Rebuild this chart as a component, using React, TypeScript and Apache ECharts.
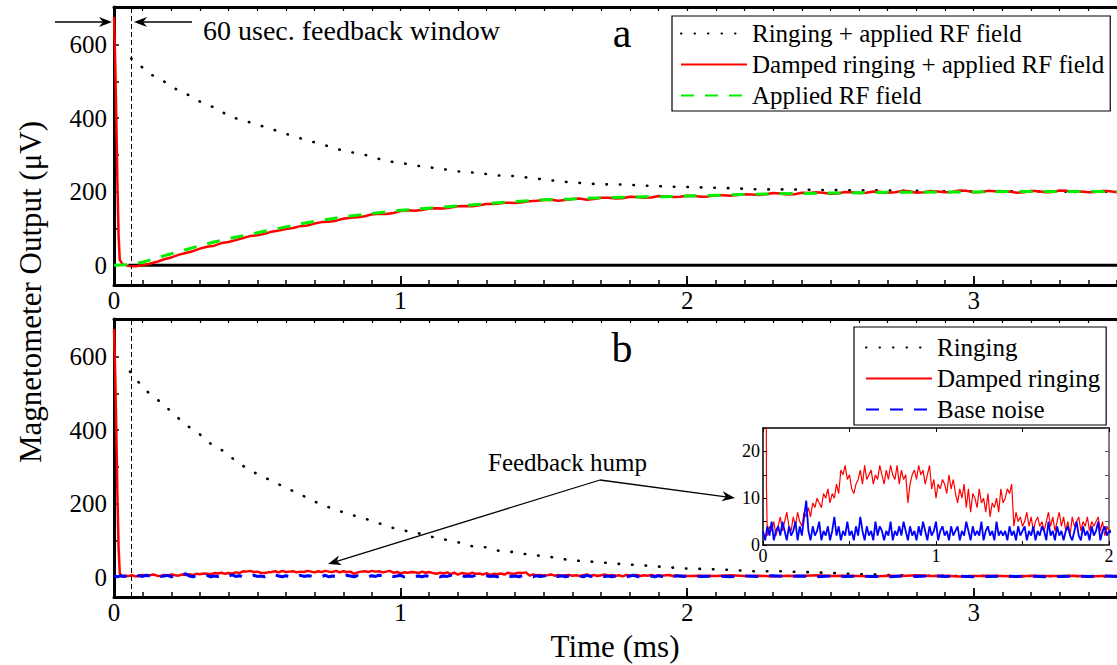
import React, { useEffect, useRef } from "react";
import * as echarts from "echarts";

const FONT = "'Liberation Serif', 'DejaVu Serif', serif";

// ---------- axes ----------
const X_MIN = 0;
const X_MAX = 3.5;
const Y_MIN = -54;
const Y_MAX = 702;
const xLabelValues = [0, 1, 2, 3];
const yLabelValues = [0, 200, 400, 600];
const yTickValues = [0, 100, 200, 300, 400, 500, 600, 700];
const insetXLabelValues = [0, 1, 2];
const insetYLabelValues = [0, 10, 20];
const FEEDBACK_WINDOW_MS = 0.06;

// ---------- panel a ----------
const ringRfT = [0.06, 0.1, 0.13, 0.18, 0.22, 0.27, 0.31, 0.36, 0.4, 0.45, 0.5, 0.55, 0.6, 0.65, 0.7, 0.75, 0.8, 0.87, 0.92, 0.96, 1.01, 1.05, 1.1, 1.15, 1.2, 1.28, 1.33, 1.4, 1.5, 1.55, 1.6, 1.69, 1.79, 1.83, 1.92, 2.02, 2.16, 2.25, 2.37, 2.5, 2.7, 2.9, 3.1, 3.3, 3.5];
const ringRfV = [562, 537, 518, 497, 477, 459, 440, 426, 405, 394, 382, 370, 357, 345, 334, 323, 311, 301, 290, 282, 277, 271, 266, 261, 255, 250, 244, 242, 233, 228, 225, 220, 219, 217, 214, 212, 209, 206, 206, 204, 203, 201, 201, 200, 200];

const dampRfSpikeT = [0, 0.004, 0.008, 0.012, 0.016, 0.02, 0.03];
const dampRfSpikeV = [675, 560, 400, 220, 80, 15, 2];
const dampRfStep = 0.025;
const dampRfV = [
  -2, -3, 0, 4, 9, 16, 21, 28, 33, 38, 45, 50, 53, 60, 63, 68, 74, 79, 81, 85,
  91, 94, 98, 101, 106, 108, 113, 117, 118, 121, 126, 129, 130, 133, 138, 140, 139, 142, 147, 149,
  148, 150, 154, 155, 154, 157, 160, 161, 160, 163, 166, 166, 168, 170, 169, 171, 174, 175, 177, 178,
  175, 177, 180, 181, 178, 180, 183, 183, 181, 182, 186, 185, 183, 184, 188, 187, 185, 186, 189, 188,
  186, 187, 190, 190, 189, 191, 193, 192, 191, 193, 196, 195, 192, 193, 197, 196, 198, 197, 194, 195,
  199, 198, 196, 197, 200, 199, 197, 198, 202, 201, 197, 198, 201, 200, 198, 199, 203, 202, 198, 199,
  202, 201, 199, 200, 197, 198, 202, 201, 198, 199, 203, 202, 199, 200, 198, 199, 202, 201, 198, 199,
];

const rfT = [0, 0.05, 0.1, 0.15, 0.2, 0.25, 0.3, 0.35, 0.4, 0.45, 0.5, 0.55, 0.6, 0.65, 0.7, 0.75, 0.8, 0.85, 0.9, 0.95, 1.0, 1.1, 1.2, 1.3, 1.4, 1.5, 1.6, 1.7, 1.8, 1.9, 2.0, 2.1, 2.2, 2.3, 2.4, 2.5, 2.6, 2.7, 2.8, 2.9, 3.0, 3.1, 3.2, 3.3, 3.4, 3.5];
const rfV = [0, 1, 8, 20, 31, 42, 53, 63, 72, 80, 88, 96, 104, 112, 119, 125, 131, 136, 140, 145, 149, 155, 161, 167, 173, 178, 180, 183, 185, 186, 188, 190, 192, 194, 195, 196, 197, 198, 198, 199, 199, 200, 200, 200, 200, 200];

const zeroLineT = [0.05, 3.5];
const zeroLineV = [0, 0];

// ---------- panel b ----------
const ringT = [0.056, 0.087, 0.126, 0.17, 0.206, 0.25, 0.3, 0.34, 0.39, 0.43, 0.5, 0.55, 0.6, 0.65, 0.713, 0.76, 0.81, 0.857, 0.906, 0.954, 1.0, 1.05, 1.1, 1.15, 1.2, 1.25, 1.3, 1.345, 1.4, 1.44, 1.5, 1.55, 1.59, 1.69, 1.73, 1.78, 1.83, 1.88, 1.93, 1.98, 2.07, 2.17, 2.22, 2.32, 2.41, 2.51, 2.6, 2.7, 2.8, 3.0, 3.5];
const ringV = [559, 529, 497, 472, 445, 415, 388, 361, 339, 312, 280, 262, 243, 225, 201, 187, 174, 163, 152, 138, 128, 122, 111, 103, 95, 84, 81, 71, 68, 62, 57, 52, 46, 41, 38, 35, 33, 30, 27, 24, 22, 19, 16, 16, 14, 11, 8, 6, 4, 3, 2];

const dampSpikeT = [0, 0.004, 0.008, 0.012, 0.016, 0.02];
const dampSpikeV = [675, 560, 400, 220, 80, 12];
const sampleStep = 0.0125;
const dampSampleStart = 0.025;
const dampSampleV = [
  2, 4, 3, 5, 2, 4, 6, 3,
  5, 7, 4, 3, 6, 4, 7, 5,
  4, 7, 6, 8, 6, 9, 8, 10,
  9, 8, 11, 10, 12, 9, 11, 10,
  13, 11, 16, 15, 17, 14, 15, 12,
  11, 13, 14, 16, 13, 17, 14, 15,
  16, 13, 15, 14, 17, 15, 13, 16,
  14, 17, 15, 14, 17, 13, 16, 14,
  15, 9, 13, 15, 16, 14, 17, 15,
  16, 13, 15, 17, 12, 14, 10, 13,
  12, 14, 13, 11, 15, 12, 14, 11,
  9, 12, 10, 13, 8, 12, 7, 11,
  10, 8, 12, 9, 10, 7, 11, 6,
  9, 8, 10, 7, 12, 9, 10, 12,
  11, 13, 4, 7, 5, 6, 4, 5,
  7, 4, 6, 3, 5, 6, 4, 5,
  3, 5, 7, 4, 6, 3, 5, 7,
  4, 6, 3, 5, 2, 6, 4, 5,
  6, 3, 5, 4, 6, 3, 5, 4,
  5, 6, 3, 5, 2, 4, 3,
];
const baseSampleStart = 0;
const baseSampleV = [
  3, 1, 4, 2, 5, 1, 3, 4,
  2, 5, 3, 1, 4, 2, 3, 5,
  1, 4, 2, 6, 9.5, 3, 1, 4,
  2, 3, 5, 1, 3, 2, 4, 1,
  3, 6, 2, 4, 1, 3, 2, 5,
  2, 3, 1, 4, 2, 6, 3, 1,
  4, 2, 3, 1, 5, 2, 4, 3,
  1, 3, 2, 5, 1, 3, 2, 4,
  2, 5, 3, 1, 4, 2, 3, 1,
  4, 2, 5, 3, 1, 4, 2, 3,
  5, 1, 3, 4, 2, 3, 1, 4,
  2, 3, 4, 1, 3, 2, 5, 3,
  1, 4, 2, 3, 2, 5, 1, 3,
  4, 2, 3, 1, 5, 2, 3, 2,
  3, 1, 4, 2, 3, 1, 4, 2,
  3, 4, 1, 3, 2, 4, 1, 3,
  2, 4, 3, 1, 5, 2, 3, 1,
  4, 2, 3, 1, 3, 4, 2, 1,
  3, 5, 2, 1, 4, 2, 3, 1,
  4, 2, 3, 5, 1, 3, 4, 2,
  3,
];
const tailStart = 2.05;
const tailStep = 0.05;
const dampTailV = [4, 3, 5, 3, 4, 2, 4, 3, 5, 3, 4, 3, 2, 4, 3, 5, 3, 4, 2, 3, 4, 3, 2, 4, 3, 3, 4, 2, 3, 3];
const baseTailV = [2, 3, 1, 3, 2, 4, 2, 3, 1, 3, 2, 3, 2, 1, 3, 2, 4, 2, 3, 1, 2, 3, 2, 3, 1, 2, 3, 2, 3, 2];

// ---------- helpers ----------
const zip = (t: number[], v: number[]) => t.map((x, i) => [x, v[i]]);
const grid = (start: number, step: number, n: number) =>
  Array.from({ length: n }, (_, i) => +(start + i * step).toFixed(5));

const dampRfData = [
  ...zip(dampRfSpikeT, dampRfSpikeV),
  ...zip(grid(0.05, dampRfStep, dampRfV.length), dampRfV),
];
const dampData = [
  ...zip(dampSpikeT, dampSpikeV),
  ...zip(grid(dampSampleStart, sampleStep, dampSampleV.length), dampSampleV),
  ...zip(grid(tailStart, tailStep, dampTailV.length), dampTailV),
];
const baseData = [
  ...zip(grid(baseSampleStart, sampleStep, baseSampleV.length), baseSampleV),
  ...zip(grid(tailStart, tailStep, baseTailV.length), baseTailV),
];

const BLACK = "#000";
const RED = "#ff0000";
const GREEN = "#00ee00";
const BLUE = "#0000ff";

function arrow(x1: number, y1: number, x2: number, y2: number, head = 13, half = 5) {
  const dx = x2 - x1;
  const dy = y2 - y1;
  const len = Math.hypot(dx, dy);
  const ux = dx / len;
  const uy = dy / len;
  const px = -uy;
  const py = ux;
  const bx = x2 - ux * head;
  const by = y2 - uy * head;
  const nx = x2 - ux * head * 0.7;
  const ny = y2 - uy * head * 0.7;
  return [
    { type: "line", z: 100, shape: { x1, y1, x2: nx, y2: ny }, style: { stroke: BLACK, lineWidth: 1.3 } },
    {
      type: "polygon",
      z: 100,
      shape: { points: [[x2, y2], [bx + px * half, by + py * half], [nx, ny], [bx - px * half, by - py * half]] },
      style: { fill: BLACK },
    },
  ];
}

function mainXAxes(g: number) {
  return [
    {
      type: "value", gridIndex: g, position: "bottom", min: X_MIN, max: X_MAX, interval: 0.1,
      axisLine: { show: true, onZero: false, lineStyle: { color: BLACK, width: 3 } },
      axisTick: { show: true, inside: true, length: 5, lineStyle: { color: BLACK, width: 1.5 } },
      axisLabel: { show: true, customValues: xLabelValues, margin: 3, fontSize: 25, color: BLACK, fontFamily: FONT },
      splitLine: { show: false },
    },
    {
      type: "value", gridIndex: g, position: "bottom", min: X_MIN, max: X_MAX,
      axisLine: { show: false, onZero: false },
      axisTick: { show: true, inside: true, length: 9, customValues: xLabelValues, lineStyle: { color: BLACK, width: 1.8 } },
      axisLabel: { show: false },
      splitLine: { show: false },
    },
    {
      type: "value", gridIndex: g, position: "top", min: X_MIN, max: X_MAX, interval: 0.1,
      axisLine: { show: true, onZero: false, lineStyle: { color: BLACK, width: 3 } },
      axisTick: { show: true, inside: true, length: 4, lineStyle: { color: BLACK, width: 1.2 } },
      axisLabel: { show: false },
      splitLine: { show: false },
    },
  ];
}

function mainYAxis(g: number) {
  return {
    type: "value", gridIndex: g, position: "left", min: Y_MIN, max: Y_MAX,
    axisLine: { show: true, onZero: false, lineStyle: { color: BLACK, width: 3 } },
    axisTick: { show: true, inside: true, length: 5, customValues: yTickValues, lineStyle: { color: BLACK, width: 1.5 } },
    axisLabel: { show: true, customValues: yLabelValues, margin: 7, fontSize: 25, color: BLACK, fontFamily: FONT },
    splitLine: { show: false },
  };
}

const feedbackMark = {
  silent: true,
  symbol: "none",
  label: { show: false },
  lineStyle: { type: [5, 3], width: 1, color: BLACK },
  data: [{ xAxis: FEEDBACK_WINDOW_MS }],
};

const dottedStyle = { color: BLACK, width: 2.6, type: [0.5, 13], cap: "round" };
const dashStyle = (color: string) => ({ color, width: 3, type: [13, 11] });

const legendCommon = {
  orient: "vertical",
  itemWidth: 66,
  itemHeight: 14,
  itemGap: 6,
  borderColor: BLACK,
  borderWidth: 1.2,
  borderRadius: 0,
  backgroundColor: "#fff",
  selectedMode: false,
  itemStyle: { opacity: 0 },
  textStyle: { fontSize: 25, lineHeight: 25, fontFamily: FONT, color: BLACK },
};

export default function App() {
  const ref = useRef<HTMLDivElement>(null);
  useEffect(() => {
    if (!ref.current) return;
    const chart = echarts.init(ref.current, undefined, { renderer: "svg" });
    const option: any = {
      animation: false,
      backgroundColor: "#fff",
      textStyle: { fontFamily: FONT },
      grid: [
        { left: 114, top: 7, width: 1003, height: 278 },
        { left: 114, top: 319, width: 1003, height: 278 },
        { left: 763, top: 428, width: 346, height: 117, show: true, backgroundColor: "#fff", borderWidth: 0, z: 5 },
      ],
      xAxis: [
        ...mainXAxes(0),
        ...mainXAxes(1),
        {
          type: "value", gridIndex: 2, position: "bottom", min: 0, max: 2, interval: 0.5, z: 6,
          axisLine: { show: true, onZero: false, lineStyle: { color: BLACK, width: 1.5 } },
          axisTick: { show: true, inside: true, length: 4, lineStyle: { color: BLACK, width: 1 } },
          axisLabel: { show: true, customValues: insetXLabelValues, margin: 2, fontSize: 18, color: BLACK, fontFamily: FONT },
          splitLine: { show: false },
        },
        {
          type: "value", gridIndex: 2, position: "top", min: 0, max: 2, interval: 0.5, z: 6,
          axisLine: { show: true, onZero: false, lineStyle: { color: BLACK, width: 1.5 } },
          axisTick: { show: true, inside: true, length: 4, lineStyle: { color: BLACK, width: 1 } },
          axisLabel: { show: false },
          splitLine: { show: false },
        },
      ],
      yAxis: [
        mainYAxis(0),
        mainYAxis(1),
        {
          type: "value", gridIndex: 2, position: "left", min: 0, max: 25, interval: 5, z: 6,
          axisLine: { show: true, onZero: false, lineStyle: { color: BLACK, width: 1.5 } },
          axisTick: { show: true, inside: true, length: 4, lineStyle: { color: BLACK, width: 1 } },
          axisLabel: { show: true, customValues: insetYLabelValues, margin: 3, fontSize: 18, color: BLACK, fontFamily: FONT },
          splitLine: { show: false },
        },
        {
          type: "value", gridIndex: 2, position: "right", min: 0, max: 25, interval: 5, z: 6,
          axisLine: { show: true, onZero: false, lineStyle: { color: "#555", width: 1.5 } },
          axisTick: { show: true, inside: true, length: 4, lineStyle: { color: "#555", width: 1 } },
          axisLabel: { show: false },
          splitLine: { show: false },
        },
      ],
      legend: [
        {
          ...legendCommon,
          left: 672, top: 16, padding: [5, 6, 3, 8],
          data: ["Ringing + applied RF field", "Damped ringing + applied RF field", "Applied RF field"],
        },
        {
          ...legendCommon,
          left: 854, top: 327, padding: [8, 6, 3, 11],
          data: ["Ringing", "Damped ringing", "Base noise"],
        },
      ],
      series: [
        // panel a
        {
          name: "Ringing + applied RF field", type: "line", xAxisIndex: 0, yAxisIndex: 0,
          data: zip(ringRfT, ringRfV), symbol: "none", lineStyle: dottedStyle, itemStyle: { color: BLACK },
          markLine: feedbackMark,
        },
        {
          type: "line", xAxisIndex: 0, yAxisIndex: 0, data: zip(zeroLineT, zeroLineV),
          symbol: "none", lineStyle: { color: BLACK, width: 3 }, silent: true,
        },
        {
          name: "Damped ringing + applied RF field", type: "line", xAxisIndex: 0, yAxisIndex: 0,
          data: dampRfData, symbol: "none", lineStyle: { color: RED, width: 2.5 }, itemStyle: { color: RED },
        },
        {
          name: "Applied RF field", type: "line", xAxisIndex: 0, yAxisIndex: 0,
          data: zip(rfT, rfV), symbol: "none", lineStyle: dashStyle(GREEN), itemStyle: { color: GREEN },
        },
        // panel b
        {
          name: "Ringing", type: "line", xAxisIndex: 3, yAxisIndex: 1,
          data: zip(ringT, ringV), symbol: "none", lineStyle: dottedStyle, itemStyle: { color: BLACK },
          markLine: feedbackMark,
        },
        {
          name: "Damped ringing", type: "line", xAxisIndex: 3, yAxisIndex: 1,
          data: dampData, symbol: "none", lineStyle: { color: RED, width: 2.5 }, itemStyle: { color: RED },
        },
        {
          name: "Base noise", type: "line", xAxisIndex: 3, yAxisIndex: 1,
          data: baseData, symbol: "none", lineStyle: dashStyle(BLUE), itemStyle: { color: BLUE },
        },
        // inset
        {
          name: "Damped ringing (inset)", type: "line", xAxisIndex: 6, yAxisIndex: 2, z: 7,
          data: dampData, symbol: "none", clip: true, lineStyle: { color: RED, width: 1.2 },
        },
        {
          name: "Base noise (inset)", type: "line", xAxisIndex: 6, yAxisIndex: 2, z: 7,
          data: baseData, symbol: "none", clip: true, lineStyle: { color: BLUE, width: 1.8 },
        },
      ],
      graphic: [
        { type: "text", z: 100, style: { text: "a", x: 622, y: 33, fontSize: 42, fontFamily: FONT, fill: BLACK, align: "center", verticalAlign: "middle" } },
        { type: "text", z: 100, style: { text: "b", x: 622, y: 348, fontSize: 42, fontFamily: FONT, fill: BLACK, align: "center", verticalAlign: "middle" } },
        { type: "text", z: 100, style: { text: "60 usec. feedback window", x: 203, y: 30, fontSize: 28, fontFamily: FONT, fill: BLACK, verticalAlign: "middle" } },
        { type: "text", z: 100, style: { text: "Feedback hump", x: 488, y: 462, fontSize: 25, fontFamily: FONT, fill: BLACK, verticalAlign: "middle" } },
        { type: "text", z: 100, style: { text: "Time (ms)", x: 615, y: 646, fontSize: 31, fontFamily: FONT, fill: BLACK, align: "center", verticalAlign: "middle" } },
        {
          type: "text", z: 100, x: 30, y: 292, rotation: Math.PI / 2,
          style: { text: "Magnetometer Output (\u03bcV)", x: 0, y: 0, fontSize: 31, fontFamily: FONT, fill: BLACK, align: "center", verticalAlign: "middle" },
        },
        ...arrow(55, 22, 112, 22),
        ...arrow(192, 22, 134, 22),
        ...arrow(600, 480, 328, 564),
        ...arrow(600, 480, 735, 498),
      ],
    };
    chart.setOption(option);
    return () => chart.dispose();
  }, []);
  return (
    <div
      ref={ref}
      style={{ position: "absolute", left: 0, top: 0, width: 1117, height: 665, background: "#fff" }}
    />
  );
}
